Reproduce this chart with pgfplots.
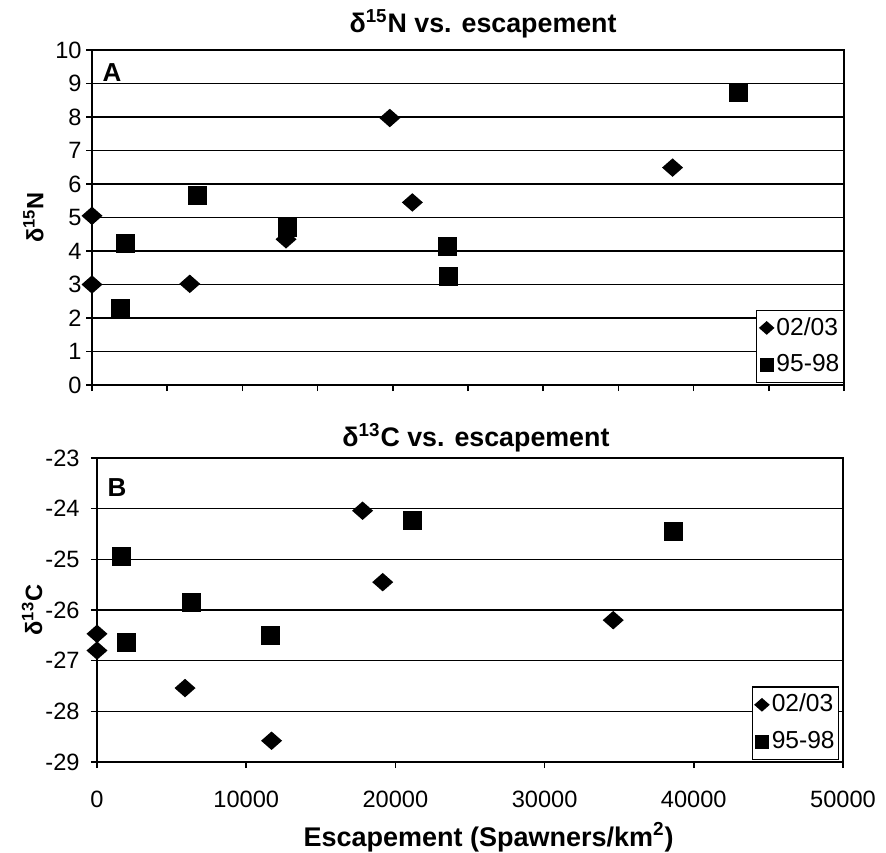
\documentclass[border=0pt]{standalone}
\usepackage{fontspec}
\setmainfont{Liberation Sans}
\usepackage{pgfplots}
\pgfplotsset{compat=1.18}
\pgfdeclareplotmark{mydiamond}{%
 \pgfpathmoveto{\pgfqpoint{0pt}{0.88\pgfplotmarksize}}%
 \pgfpathlineto{\pgfqpoint{\pgfplotmarksize}{0pt}}%
 \pgfpathlineto{\pgfqpoint{0pt}{-0.88\pgfplotmarksize}}%
 \pgfpathlineto{\pgfqpoint{-\pgfplotmarksize}{0pt}}%
 \pgfpathclose\pgfusepathqfill}
\pgfplotsset{
  myaxis/.style={
    scale only axis,
    anchor=south west,
    xmin=0, xmax=50000,
    /pgf/number format/assume math mode=true,
    /pgf/number format/1000 sep={},
    scaled x ticks=false,
    axis line style={line width=0.8pt},
    tick style={line width=0.8pt, black},
    major tick length=3pt,
    tick align=outside,
    xtick pos=bottom, ytick pos=left,
    ymajorgrids,
    grid style={line width=0.8pt, black},
    tick label style={font=\fontsize{11.8}{13}\selectfont},
    yticklabel style={inner sep=2pt},
    legend style={draw=black, line width=0.6pt,
      font=\fontsize{12.3}{14}\selectfont,
      nodes={font=\fontsize{12.3}{14}\selectfont, inner xsep=1pt, inner ysep=2.5pt},
      inner xsep=1pt, inner ysep=1pt, row sep=3pt},
    legend cell align=left,
    title style={font=\fontsize{13.4}{15}\selectfont\bfseries, anchor=center, yshift=-6pt},
    ylabel style={font=\fontsize{11.8}{14}\selectfont\bfseries, anchor=center},
    xlabel style={font=\fontsize{13.5}{15}\selectfont\bfseries, anchor=center},
  },
  dia/.style={only marks, mark=mydiamond, mark size=5.25pt, black,
    legend image code/.code={\draw[##1, mark size=3.9pt] plot coordinates {(0.12cm,0cm)};}},
  sqr/.style={only marks, mark=square*, mark size=4.5pt, black,
    legend image code/.code={\draw[##1, mark size=3.2pt] plot coordinates {(0.12cm,0cm)};}},
}
\begin{document}
\fontsize{12}{14}\selectfont
\begin{tikzpicture}
\path[use as bounding box] (0pt,0pt) rectangle (443pt,-426pt);
% Panel A
\begin{axis}[myaxis,
  at={(46pt,-192.5pt)}, width=376pt, height=167.5pt,
  ymin=0, ymax=10, ytick={0,1,...,10},
  xtick={0,5000,...,50000}, xticklabels={},
  title={δ\textsuperscript{15}N vs. escapement},
  title style={at={(axis description cs:0.52,1.078)}},
  ylabel={δ\textsuperscript{15}N},
  ylabel style={at={(axis description cs:-0.078,0.5)}},
  legend style={at={(axis description cs:1,0.006)}, anchor=south east},
]
\addplot[dia] coordinates {(0,5.05) (0,3.0) (6500,3.02) (12900,4.35) (19800,7.97) (21300,5.45) (38600,6.49)};
\addlegendentry{02/03}
\addplot[sqr] coordinates {(1900,2.28) (2200,4.23) (7000,5.67) (13000,4.7) (23600,4.13) (23700,3.25) (43000,8.73)};
\addlegendentry{95-98}
\node[font=\fontsize{13}{14}\selectfont\bfseries] at (axis cs:1330,9.34) {A};
\end{axis}
% Panel B
\begin{axis}[myaxis,
  at={(48.5pt,-381pt)}, width=373pt, height=152pt,
  ymin=-29, ymax=-23, ytick={-29,-28,...,-23},
  xtick={0,10000,...,50000},
  xticklabel style={yshift=-7.5pt},
  yticklabel style={xshift=-3.5pt},
  title={δ\textsuperscript{13}C vs. escapement},
  title style={at={(axis description cs:0.508,1.066)}},
  ylabel={δ\textsuperscript{13}C},
  ylabel style={at={(axis description cs:-0.087,0.5)}},
  xlabel={Escapement (Spawners/km\textsuperscript{2})},
  xlabel style={at={(axis description cs:0.525,-0.247)}},
  legend style={at={(axis description cs:0.995,0.007)}, anchor=south east},
]
\addplot[dia] coordinates {(0,-26.47) (0,-26.8) (5900,-27.54) (11700,-28.58) (17800,-24.04) (19150,-25.45) (34600,-26.2)};
\addlegendentry{02/03}
\addplot[sqr] coordinates {(1650,-24.94) (2000,-26.63) (6300,-25.84) (11640,-26.51) (21130,-24.24) (38630,-24.44)};
\addlegendentry{95-98}
\node[font=\fontsize{13}{14}\selectfont\bfseries] at (axis cs:1340,-23.59) {B};
\end{axis}
\end{tikzpicture}
\end{document}
